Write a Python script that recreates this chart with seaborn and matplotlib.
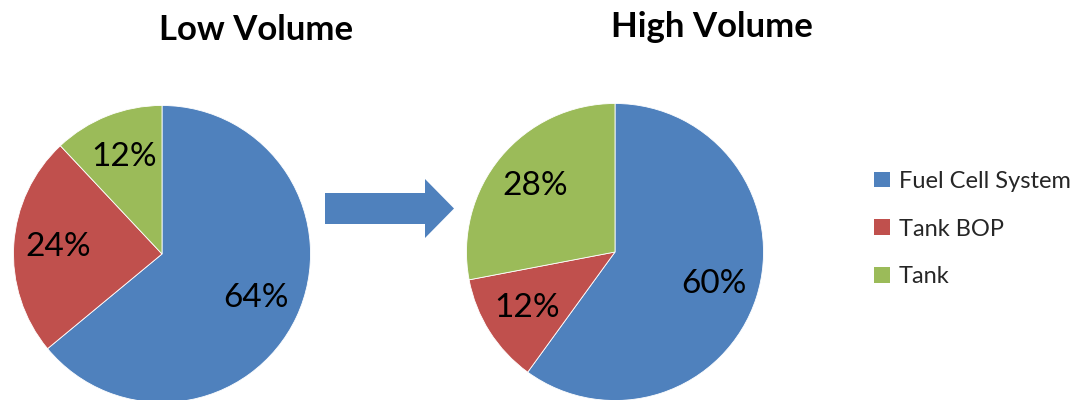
import matplotlib
matplotlib.use("Agg")
import matplotlib.pyplot as plt
from matplotlib.patches import FancyArrow, Patch
import seaborn as sns

categories = ["Fuel Cell System", "Tank BOP", "Tank"]
low_volume = [64, 24, 12]
high_volume = [60, 12, 28]
titles = ["Low Volume", "High Volume"]
colors = ["#4F81BD", "#C0504D", "#9BBB59"]

sns.set_theme(style="white")
plt.rcParams["font.family"] = ["Lato", "DejaVu Sans"]

W, H = 1076, 400
fig = plt.figure(figsize=(W / 100, H / 100), dpi=100)
fig.patch.set_facecolor("white")

# background axes in pixel coordinates for the arrow
bg = fig.add_axes([0, 0, 1, 1], zorder=0)
bg.set_xlim(0, W)
bg.set_ylim(H, 0)
bg.axis("off")
bg.add_patch(FancyArrow(325, 208.5, 129, 0, width=31, head_width=59,
                        head_length=29, length_includes_head=True,
                        color="#4F81BD", linewidth=0))

def pie_axes(cx, cy, r):
    return fig.add_axes([(cx - r) / W, (H - cy - r) / H, 2 * r / W, 2 * r / H], zorder=1)

pie_specs = [((162, 254, 150), low_volume), ((615, 252, 150), high_volume)]
for (cx, cy, r), vals in pie_specs:
    ax = pie_axes(cx, cy, r)
    ax.pie(vals, colors=colors, startangle=90, counterclock=False,
           autopct="%d%%", pctdistance=0.7,
           wedgeprops=dict(edgecolor="white", linewidth=0.6),
           textprops=dict(fontsize=24, color="black"))
    ax.set_xlim(-1.01, 1.01)
    ax.set_ylim(-1.01, 1.01)
    ax.set_aspect("equal")
    ax.axis("off")

fig.text(256 / W, 1 - 30 / H, titles[0], ha="center", va="center",
         fontsize=25, fontweight="bold", color="black")
fig.text(712 / W, 1 - 27 / H, titles[1], ha="center", va="center",
         fontsize=25, fontweight="bold", color="black")

handles = [Patch(facecolor=c, edgecolor="none") for c in colors]
fig.legend(handles, categories, loc="center left",
           bbox_to_anchor=(853 / W, 1 - 229 / H), frameon=False,
           fontsize=17, handlelength=0.65, handleheight=0.65,
           handletextpad=0.38, labelspacing=1.13,
           labelcolor="#262626")

fig.savefig("out.png", dpi=100, facecolor="white")
